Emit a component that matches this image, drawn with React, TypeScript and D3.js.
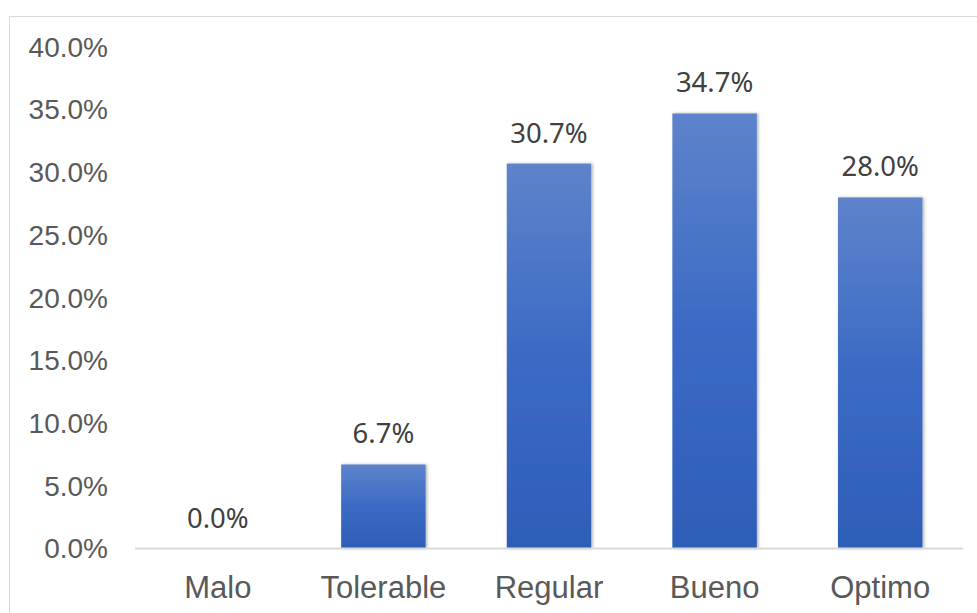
import React from "react";
import * as d3 from "d3";

const categories = ["Malo", "Tolerable", "Regular", "Bueno", "Optimo"];
const values = [0.0, 6.7, 30.7, 34.7, 28.0];
const yTicks = [0, 5, 10, 15, 20, 25, 30, 35, 40];

const W = 977;
const H = 613;

export default function App() {
  const x = d3.scaleBand<string>().domain(categories).range([135, 963]).paddingInner(0.49).paddingOuter(0.245);
  const y = d3.scaleLinear().domain([0, 40]).range([548.5, 47]);
  const fmt = (v: number) => v.toFixed(1) + "%";

  return (
    <div style={{ position: "absolute", left: 0, top: 0 }}>
      <svg width={W} height={H} style={{ display: "block" }}>
        <defs>
          <linearGradient id="barGrad" x1="0" y1="0" x2="0" y2="1">
            <stop offset="0%" stopColor="#5e83cb" />
            <stop offset="50%" stopColor="#3b6ac4" />
            <stop offset="100%" stopColor="#2e5eb7" />
          </linearGradient>
          <filter id="shadow" x="-20%" y="-5%" width="140%" height="110%">
            <feDropShadow dx="1.5" dy="0" stdDeviation="1.5" floodColor="#000" floodOpacity="0.3" />
          </filter>
        </defs>
        <rect x={0} y={0} width={W} height={H} fill="#fff" />
        <path d={`M9.5,${H} V16.5 H${W}`} fill="none" stroke="#d9d9d9" strokeWidth={1} />
        {yTicks.map((t) => (
          <text
            key={t}
            x={108}
            y={y(t)}
            dy="0.35em"
            textAnchor="end"
            fontFamily="'Liberation Sans', Arial, sans-serif"
            fontSize={28}
            fill="#595959"
          >
            {fmt(t)}
          </text>
        ))}
        {categories.map((c, i) => {
          const v = values[i];
          const bx = x(c)!;
          const bw = x.bandwidth();
          return (
            <g key={c}>
              {v > 0 && (
                <rect
                  x={bx}
                  y={y(v)}
                  width={bw}
                  height={y(0) - y(v)}
                  fill="url(#barGrad)"
                  filter="url(#shadow)"
                />
              )}
              <text
                x={bx + bw / 2}
                y={y(v) - 21}
                textAnchor="middle"
                fontFamily="'Noto Sans', 'Open Sans', sans-serif"
                fontSize={27.5}
                fill="#404040"
              >
                {fmt(v)}
              </text>
              <text
                x={bx + bw / 2}
                y={587}
                dy="0.35em"
                textAnchor="middle"
                fontFamily="'Liberation Sans', Arial, sans-serif"
                fontSize={31}
                fill="#595959"
              >
                {c}
              </text>
            </g>
          );
        })}
        <line x1={135} x2={963} y1={548.5} y2={548.5} stroke="#d9d9d9" strokeWidth={2} />
      </svg>
    </div>
  );
}
